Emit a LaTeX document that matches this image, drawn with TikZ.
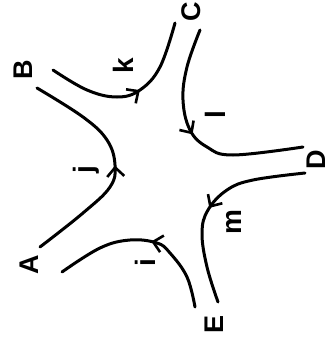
\documentclass[tikz,border=0pt]{standalone}
\usepackage{fontspec}
\setmainfont{Liberation Sans}
\usetikzlibrary{arrows.meta,decorations.markings}
\tikzset{
  lbl/.style={font=\fontsize{27}{27}\selectfont\bfseries, rotate=90, inner sep=0pt},
  sml/.style={font=\fontsize{28}{28}\selectfont\bfseries, rotate=90, inner sep=0pt},
  curve/.style={line width=3pt, line cap=round},
  arrowat/.style={postaction={decorate}, decoration={markings,
     mark=at position #1 with {\arrow[line width=2.6pt]{Straight Barb[length=9pt,width=17pt]}}}}
}
\begin{document}
\begin{tikzpicture}[x=1pt,y=-1pt]
\useasboundingbox (0,0) rectangle (330,340);
\node[lbl] (A) at (29,265) {A};
\node[lbl] (B) at (23,70) {B};
\node[lbl] (C) at (191,12) {C};
\node[lbl] (D) at (316,160) {D};
\node[lbl] (E) at (214,324) {E};
\node[sml] (j) at (86,170) {j};
\node[sml] (k) at (123,66) {k};
\node[sml] (l) at (215,115) {l};
\node[sml] (m) at (234,222) {m};
\node[sml] (i) at (145,263) {i};
% A-B
\draw[curve, arrowat=0.5] plot[smooth, tension=0.65] coordinates {(40,247) (83,213) (110,187) (115,165) (107,140) (83,117) (37,88)};
% B-C
\draw[curve, arrowat=0.55] plot[smooth, tension=0.65] coordinates {(53,70) (87,90) (117,97) (140,90) (160,67) (175,23)};
% C-D
\draw[curve, arrowat=0.48] plot[smooth, tension=0.65] coordinates {(200,30) (187,67) (183,100) (190,130) (207,147) (233,155) (303,147)};
% D-E
\draw[curve, arrowat=0.52] plot[smooth, tension=0.65] coordinates {(305,173) (253,180) (227,190) (208,210) (202,233) (207,267) (218,302)};
% E-A
\draw[curve, arrowat=0.46] plot[smooth, tension=0.65] coordinates {(195,307) (187,277) (170,253) (157,243) (130,240) (100,248) (62,272)};
\end{tikzpicture}
\end{document}
